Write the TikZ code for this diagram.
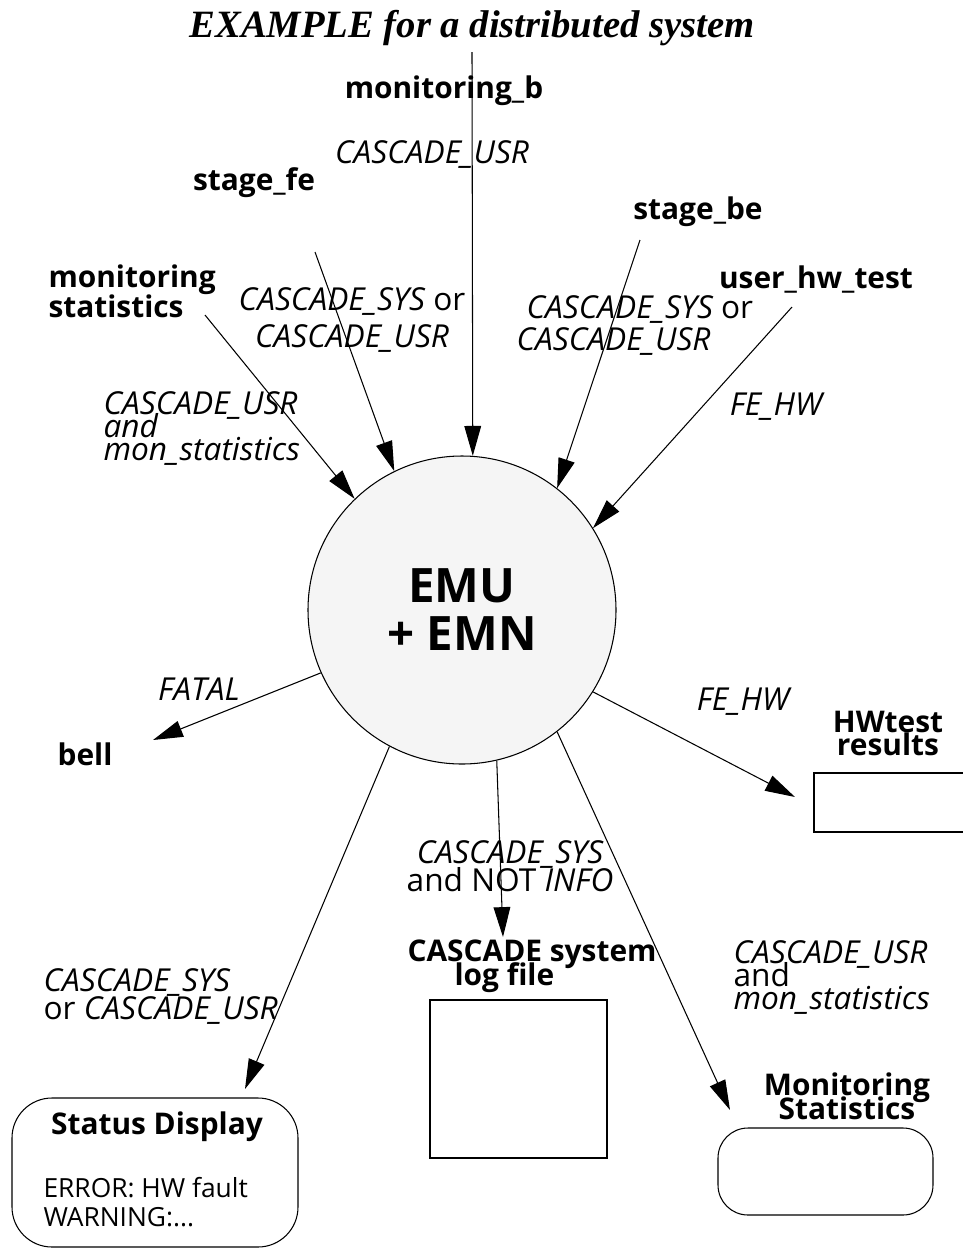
\documentclass[tikz,border=0pt]{standalone}
\usepackage{fontspec}
\setmainfont{Open Sans}
\newfontfamily\titlefont{Liberation Serif}
\usetikzlibrary{arrows.meta}
\newcommand{\cas}[1]{\textit{CASCADE\_#1}}
\newcommand{\tightlines}{\setlength{\lineskiplimit}{-20pt}}

\begin{document}
\begin{tikzpicture}[>={Triangle[length=17pt,width=9.5pt]}, line width=0.6pt,
  entity/.style={font=\tightlines\fontsize{17}{13}\selectfont\bfseries, align=center, inner sep=0pt},
  flowlab/.style={font=\tightlines\fontsize{18}{12.5}\selectfont\itshape, inner sep=0pt},
  store/.style={draw, inner sep=0pt}]
\useasboundingbox (0,0) rectangle (19.24,-24.96);

\node[anchor=base, inner sep=0pt] (title) at (9.44,-0.74) {\titlefont\fontsize{22}{22}\selectfont\bfseries\itshape EXAMPLE for a distributed system};

\node[draw, circle, fill=black!4, minimum size=6.16cm, inner sep=0pt, align=center,
  font=\fontsize{27}{27.3}\selectfont\bfseries] (emu) at (9.24,-12.2) {EMU\\+ EMN};

% sources
\node[entity, anchor=base] (monb) at (8.88,-1.96) {monitoring\_b};
\node[entity, anchor=base] (stfe) at (5.08,-3.80) {stage\_fe};
\node[entity, anchor=base] (stbe) at (13.96,-4.38) {stage\_be};
\node[entity, anchor=base west, align=left] (monstat) at (0.96,-6.34) {monitoring\\[4pt]statistics};
\node[entity, anchor=base] (uhw) at (16.32,-5.76) {user\_hw\_test};

\coordinate (monbout) at (9.44,-1.04);
\coordinate (stfeout) at (6.30,-5.04);
\coordinate (monstatout) at (4.10,-6.30);
\coordinate (stbeout) at (12.80,-4.80);
\coordinate (uhwout) at (15.84,-6.14);

\draw[->] (monbout) -- (emu.86);
\draw[->] (stfeout) -- (emu.116);
\draw[->] (monstatout) -- (emu.134);
\draw[->] (stbeout) -- (emu.52);
\draw[->] (uhwout) -- (emu.32);

\node[flowlab, anchor=base] (lmonb) at (8.64,-3.26) {\cas{USR}};
\node[flowlab, anchor=base, align=center] (lstfe) at (7.04,-6.94) {\cas{SYS} \upshape or\\[8.5pt]\cas{USR}};
\node[flowlab, anchor=base west, align=left] (lstbe) at (10.52,-7.00) {\cas{SYS} \upshape or\\[5.6pt]\hspace*{-0.2cm}\cas{USR}};
\node[flowlab, anchor=base west, align=left] (lmonstat) at (2.06,-9.20) {\cas{USR}\\[0.5pt]and\\[0.5pt]mon\_statistics};
\node[flowlab, anchor=base] (luhw) at (15.52,-8.30) {FE\_HW};

% sinks
\node[entity, anchor=base] (bell) at (1.70,-15.30) {bell};
\node[entity, anchor=base] (hwt) at (17.76,-15.10) {HWtest\\results};
\node[entity, anchor=base west, align=left] (logt) at (8.14,-19.70) {CASCADE system\\[0.5pt]\hspace*{0.94cm}log file};
\node[entity, anchor=base] (monst) at (16.94,-22.38) {Monitoring\\[0.5pt]Statistics};

\draw (19.30,-15.46) -| (16.28,-16.64) -- (19.30,-16.64);
\node[store, minimum width=3.54cm, minimum height=3.16cm] (logbox) at (10.37,-21.58) {};
\node[store, rounded corners=0.6cm, minimum width=4.3cm, minimum height=1.74cm] (monbox) at (16.51,-23.43) {};
\node[store, rounded corners=0.8cm, minimum width=5.72cm, minimum height=2.98cm] (sdbox) at (3.10,-23.45) {};
\node[entity, anchor=base] (sdtitle) at (3.14,-22.68) {Status Display};
\node[anchor=base west, align=left, inner sep=0pt, font=\fontsize{15}{16.4}\selectfont] (sdmsg) at (0.86,-24.52) {ERROR: HW fault\\WARNING:...};

\coordinate (bellin) at (3.06,-14.80);
\coordinate (hwtin) at (15.90,-15.94);
\coordinate (login) at (10.06,-18.74);
\coordinate (sdin) at (4.90,-21.78);
\coordinate (monstin) at (14.60,-22.20);

\draw[->] (emu.204) -- (bellin);
\draw[->] (emu.328) -- (hwtin);
\draw[->] (emu.283) -- (login);
\draw[->] (emu.242) -- (sdin);
\draw[->] (emu.308) -- (monstin);

\node[flowlab, anchor=base] (lbell) at (3.98,-14.00) {FATAL};
\node[flowlab, anchor=base] (lhwt) at (14.86,-14.20) {FE\_HW};
\node[flowlab, anchor=base, align=center] (llog) at (10.20,-17.82) {\cas{SYS}\\[3pt]\upshape and NOT \textit{INFO}};
\node[flowlab, anchor=base west, align=left] (lsd) at (0.86,-20.38) {\cas{SYS}\\[3.4pt]\upshape or \cas{USR}};
\node[flowlab, anchor=base west, align=left] (lmonst) at (14.66,-20.18) {\cas{USR}\\[0.5pt]\upshape and\\[0.5pt]mon\_statistics};

\end{tikzpicture}
\end{document}
